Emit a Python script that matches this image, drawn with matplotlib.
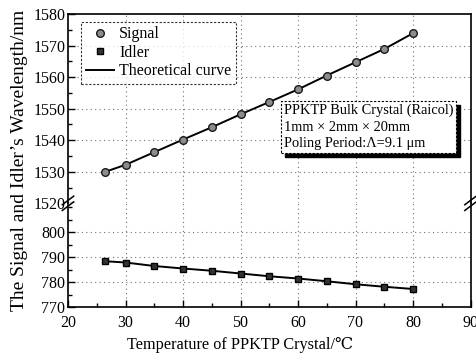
import numpy as np
import matplotlib
matplotlib.use('Agg')
import matplotlib.pyplot as plt
from matplotlib.ticker import MultipleLocator
from matplotlib.lines import Line2D
from matplotlib.transforms import offset_copy

# ── data ─────────────────────────────────────────────────────────────
temp = [26.5, 30, 35, 40, 45, 50, 55, 60, 65, 70, 75, 80]
signal = [1530.0, 1532.2, 1536.2, 1540.2, 1544.1, 1548.2,
          1552.1, 1556.1, 1560.5, 1564.7, 1568.9, 1573.9]
idler = [788.3, 787.8, 786.4, 785.4, 784.5, 783.4,
         782.3, 781.4, 780.3, 779.1, 778.1, 777.2]
xticks = [20, 30, 40, 50, 60, 70, 80, 90]
top_ticks = [1520, 1530, 1540, 1550, 1560, 1570, 1580]
bot_ticks = [770, 780, 790, 800]
legend_labels = ['Signal', 'Idler', 'Theoretical curve']
note = 'PPKTP Bulk Crystal (Raicol)\n1mm × 2mm × 20mm\nPoling Period:Λ=9.1 μm'

plt.rcParams['font.family'] = ['Liberation Serif', 'DejaVu Serif']

fig = plt.figure(figsize=(4.76, 3.58), dpi=100)
L, R = 68 / 476, 470.5 / 476
y_top, y_brk, y_bot = 1 - 14 / 358, 1 - 203.3 / 358, 1 - 307 / 358
ax_t = fig.add_axes([L, y_brk, R - L, y_top - y_brk])
ax_b = fig.add_axes([L, y_bot, R - L, y_brk - y_bot], sharex=ax_t)

ax_t.set_ylim(1520, 1580)
ax_b.set_ylim(770, 770 + (307 - 203.3) / 2.5)
ax_b.set_xlim(20, 90)

ax_t.spines['bottom'].set_visible(False)
ax_b.spines['top'].set_visible(False)

for ax in (ax_t, ax_b):
    ax.tick_params(which='both', direction='in', right=False, top=False,
                   labelsize=11.5, pad=2)
    ax.tick_params(which='major', length=5, width=1)
    ax.tick_params(which='minor', length=3, width=1)
    ax.yaxis.set_minor_locator(MultipleLocator(5))
    for s in ax.spines.values():
        s.set_linewidth(1.2)

ax_t.set_yticks(top_ticks)
ax_b.set_yticks(bot_ticks)
ax_b.set_xticks(xticks)
ax_b.xaxis.set_minor_locator(MultipleLocator(5))
ax_b.tick_params(axis='x', pad=5.5)
ax_t.tick_params(axis='x', which='both', bottom=False, labelbottom=False)

# dotted grid, skipping lines that fall on the frame
grid_kw = dict(color='0.45', ls=(0, (1, 3)), lw=0.8, zorder=0)
for ax in (ax_t, ax_b):
    for x in xticks[1:-1]:
        ax.axvline(x, **grid_kw)
for y in top_ticks[1:-1]:
    ax_t.axhline(y, **grid_kw)
for y in bot_ticks[1:]:
    ax_b.axhline(y, **grid_kw)

# data
mk_sig = dict(marker='o', ms=5.5, mfc='0.55', mec='0.1', mew=1.0)
mk_idl = dict(marker='s', ms=5, mfc='0.2', mec='k', mew=1.0)
ax_t.plot(temp, signal, color='k', lw=1.4, zorder=2)
ax_t.plot(temp, signal, ls='none', zorder=3, **mk_sig)
ax_b.plot(temp, idler, color='k', lw=1.4, zorder=2)
ax_b.plot(temp, idler, ls='none', zorder=3, **mk_idl)

# break marks on the left and right spines
for xf in (L, R):
    for dy in (-0.008, 0.008):
        fig.add_artist(Line2D([xf - 0.012, xf + 0.012],
                              [y_brk + dy - 0.012, y_brk + dy + 0.012],
                              color='k', lw=1.1, transform=fig.transFigure))

# legend
handles = [Line2D([], [], ls='none', **mk_sig),
           Line2D([], [], ls='none', **mk_idl),
           Line2D([], [], color='k', lw=1.4)]
leg = ax_t.legend(handles, legend_labels, loc='upper left',
                  bbox_to_anchor=(0.032, 0.96), fontsize=11.5, frameon=True,
                  fancybox=False, handlelength=1.8, handletextpad=0.3,
                  labelspacing=0.15, borderpad=0.3, borderaxespad=0)
fr = leg.get_frame()
fr.set_edgecolor('k')
fr.set_linestyle((0, (2, 1.5)))
fr.set_linewidth(0.8)

# annotation box with shadow
shadow_tr = offset_copy(ax_t.transAxes, fig=fig, x=4, y=-4, units='dots')
box_kw = dict(fontsize=10.4, linespacing=1.35, ha='left', va='top')
ax_t.text(0.536, 0.525, note, transform=shadow_tr, color='k', zorder=5,
          bbox=dict(boxstyle='square,pad=0.2', fc='k', ec='k'), **box_kw)
ax_t.text(0.536, 0.525, note, transform=ax_t.transAxes, color='k', zorder=6,
          bbox=dict(boxstyle='square,pad=0.2', fc='white', ec='k',
                    ls=(0, (2, 1.5)), lw=0.8), **box_kw)

fig.text(0.04, 1 - 160 / 358, 'The Signal and Idler’s Wavelength/nm',
         rotation=90, ha='center', va='center', fontsize=14)
fig.text(240 / 476, 1 - 345 / 358, 'Temperature of PPKTP Crystal/℃',
         ha='center', va='center', fontsize=11.7)

fig.savefig('out.png', dpi=100)
